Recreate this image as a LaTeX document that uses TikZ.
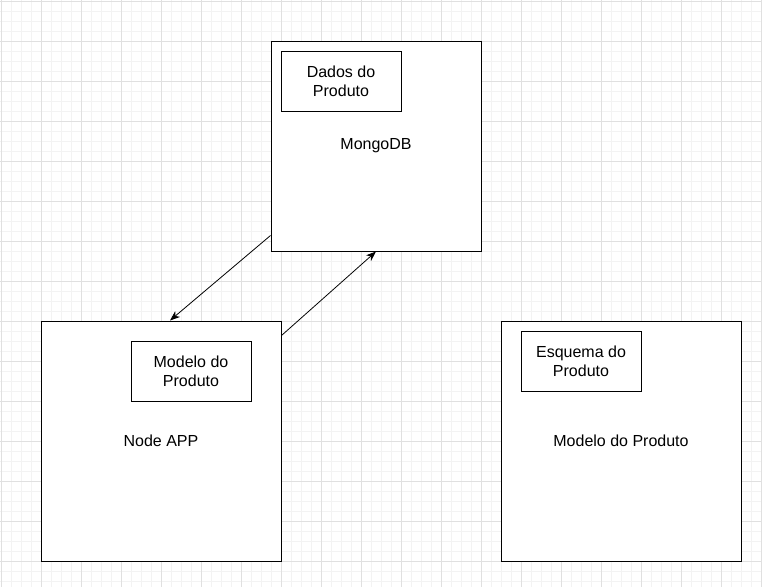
\documentclass[tikz,border=0pt]{standalone}
\usepackage{fontspec}
\setmainfont{Liberation Sans}
\usetikzlibrary{arrows.meta,calc}
\definecolor{gridminor}{HTML}{F3F3F3}
\definecolor{gridmajor}{HTML}{E0E0E0}
\tikzset{
  outerbox/.style={draw=black,line width=1pt,fill=white,inner sep=0pt,
    minimum width=240pt,minimum height=240pt,align=center,
    font=\fontsize{16}{19.2}\selectfont},
  innerbox/.style={draw=black,line width=1pt,fill=white,inner sep=0pt,
    minimum width=120pt,minimum height=60pt,align=center,
    font=\fontsize{16}{19.2}\selectfont},
  conn/.style={draw=black,line width=0.8pt,-{Stealth[length=10pt,width=7.5pt,inset=3pt]}}
}
\begin{document}
\begin{tikzpicture}[x=1pt,y=-1pt]
\useasboundingbox (0,0) rectangle (762,587);
\fill[white] (0,0) rectangle (762,587);
% grid
\foreach \i in {1,11,...,761} \draw[gridminor,line width=0.8pt] (\i,0) -- (\i,587);
\foreach \j in {1,11,...,581} \draw[gridminor,line width=0.8pt] (0,\j) -- (762,\j);
\foreach \i in {1,41,...,761} \draw[gridmajor,line width=1pt] (\i,0) -- (\i,587);
\foreach \j in {1,41,...,581} \draw[gridmajor,line width=1pt] (0,\j) -- (762,\j);
% boxes
\node[outerbox,minimum width=210pt,minimum height=210pt] (mongo) at (376,146) {MongoDB};
\node[innerbox] (dados) at (341,81) {Dados do\\Produto};
\node[outerbox] (app) at (161,441) {Node APP};
\node[innerbox] (modelo) at (191,371) {Modelo do\\Produto};
\node[outerbox] (schema) at (621,441) {Modelo do Produto};
\node[innerbox] (esquema) at (581,361) {Esquema do\\Produto};
% connectors
\draw[conn] ($(mongo.south west)+(0,-16)$) -- ($(app.north)+(9,0)$);
\draw[conn] ($(app.north east)+(0,15)$) -- (mongo.south);
\end{tikzpicture}
\end{document}
